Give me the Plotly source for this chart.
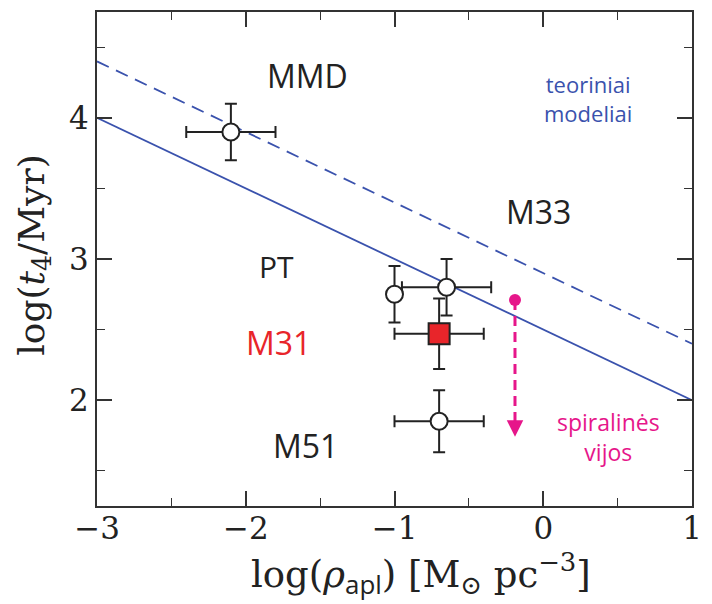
import plotly.graph_objects as go

# Theoretical model lines (log rho vs log t4)
model_x = [-3.0, 1.0]
model_solid_y = [4.0, 2.0]
model_dashed_y = [4.4, 2.4]

# Observed systems (open circles)
obs_names = ["MMD", "PT", "M33", "M51"]
obs_x = [-2.1, -1.0, -0.65, -0.7]
obs_y = [3.9, 2.75, 2.8, 1.85]
obs_xerr = [0.3, 0.0, 0.3, 0.3]
obs_yerr = [0.2, 0.2, 0.2, 0.22]

# M31 (red square)
m31_x = [-0.7]
m31_y = [2.47]
m31_xerr = [0.3]
m31_yerr = [0.25]

# Spiral-arm shift (magenta arrow)
spiral_x = [-0.19, -0.19]
spiral_y = [2.71, 1.74]

BLUE = "#3a52ad"
MAGENTA = "#e6168a"
RED = "#e8252a"
INK = "#222222"
SERIF = "DejaVu Serif"
SANS = "Open Sans"

fig = go.Figure()

fig.add_trace(go.Scatter(
    x=model_x, y=model_dashed_y, mode="lines",
    line=dict(color=BLUE, width=1.8, dash="13px,8px"), hoverinfo="skip"))
fig.add_trace(go.Scatter(
    x=model_x, y=model_solid_y, mode="lines",
    line=dict(color=BLUE, width=1.8), hoverinfo="skip"))

# dashed magenta shaft, stopping just above the arrowhead
fig.add_trace(go.Scatter(
    x=spiral_x, y=[spiral_y[0], spiral_y[1] + 0.07], mode="lines",
    line=dict(color=MAGENTA, width=3, dash="10px,6px"), hoverinfo="skip"))
fig.add_trace(go.Scatter(
    x=spiral_x[:1], y=spiral_y[:1], mode="markers",
    marker=dict(color=MAGENTA, size=12), hoverinfo="skip"))

fig.add_trace(go.Scatter(
    x=obs_x, y=obs_y, mode="markers", text=obs_names,
    marker=dict(symbol="circle", size=17, color="white",
                line=dict(color=INK, width=2)),
    error_x=dict(type="data", array=obs_xerr, color=INK, thickness=2, width=6),
    error_y=dict(type="data", array=obs_yerr, color=INK, thickness=2, width=6)))

fig.add_trace(go.Scatter(
    x=m31_x, y=m31_y, mode="markers",
    marker=dict(symbol="square", size=21, color=RED,
                line=dict(color=INK, width=2)),
    error_x=dict(type="data", array=m31_xerr, color=INK, thickness=2, width=6),
    error_y=dict(type="data", array=m31_yerr, color=INK, thickness=2, width=6)))

annotations = [
    # arrowhead of the spiral-arm shift
    dict(x=spiral_x[1], y=spiral_y[1], ax=spiral_x[1], ay=spiral_y[1] + 0.12,
         xref="x", yref="y", axref="x", ayref="y", text="",
         showarrow=True, arrowhead=2, arrowsize=1.1, arrowwidth=3,
         arrowcolor=MAGENTA),
    dict(x=-1.585, y=4.30, text="MMD", font=dict(family=SANS, size=32, color=INK)),
    dict(x=0.30, y=4.14, text="teoriniai<br>modeliai",
         font=dict(family=SANS, size=22, color=BLUE)),
    dict(x=-0.03, y=3.34, text="M33", font=dict(family=SANS, size=32, color=INK)),
    dict(x=-1.79, y=2.945, text="PT", font=dict(family=SANS, size=30, color=INK)),
    dict(x=-1.78, y=2.41, text="M31", font=dict(family=SANS, size=32, color=RED)),
    dict(x=-1.60, y=1.68, text="M51", font=dict(family=SANS, size=32, color=INK)),
    dict(x=0.44, y=1.74, text="spiralinės<br>vijos",
         font=dict(family=SANS, size=23, color=MAGENTA)),
]
for a in annotations:
    a.setdefault("xref", "x")
    a.setdefault("yref", "y")
    a.setdefault("showarrow", False)
    a.setdefault("xanchor", "center")
    a.setdefault("yanchor", "middle")

# axis titles
annotations.append(dict(
    xref="paper", yref="paper", x=0.544, y=-0.139, showarrow=False,
    xanchor="center", yanchor="middle",
    text="log(<i>ρ</i><sub><span style='font-family:Open Sans'>apl</span></sub>) "
         "[M<sub>⊙</sub> pc<sup>−3</sup>]",
    font=dict(family=SERIF, size=37, color=INK)))
annotations.append(dict(
    xref="paper", yref="paper", x=-0.1065, y=0.508, showarrow=False,
    xanchor="center", yanchor="middle", textangle=-90,
    text="log(<i>t</i><sub>4</sub>/Myr)",
    font=dict(family=SERIF, size=36, color=INK)))

axis_common = dict(
    showgrid=False, zeroline=False, showline=True, linewidth=2,
    linecolor="#333333", mirror="ticks", ticks="inside", ticklen=15,
    tickwidth=1.5, tickcolor="#333333",
    tickfont=dict(family=SERIF, size=31, color=INK),
    minor=dict(ticks="inside", ticklen=8, tickwidth=1.2,
               tickcolor="#333333", dtick=0.5, showgrid=False),
)

fig.update_layout(
    width=712, height=604,
    margin=dict(l=97, r=14, t=10, b=98),
    paper_bgcolor="white", plot_bgcolor="white",
    showlegend=False,
    annotations=annotations,
    xaxis=dict(range=[-3, 1], tick0=0, dtick=1, ticklabelstandoff=-6,
               **axis_common),
    yaxis=dict(range=[1.25, 4.75], tick0=0, dtick=1, **axis_common),
)

fig.write_html("out.html")
